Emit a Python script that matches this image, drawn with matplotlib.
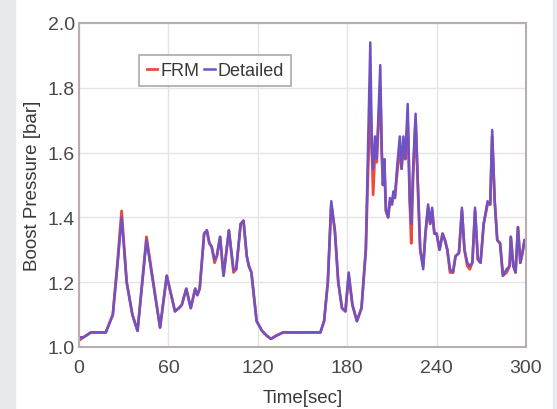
import matplotlib.pyplot as plt
from matplotlib.patches import Rectangle

plt.rcParams.update({
    "font.family": ["Liberation Sans", "DejaVu Sans"],
    "font.size": 13,
})

# =========================================================
# DATA
# =========================================================

time_s = [0, 3, 8, 18, 22.7, 25.8, 28.6, 32, 35.8, 39.3, 45.3, 54.4, 58.9,
          64.4, 67, 69, 72, 75, 78, 79.4, 81, 84, 85.8, 87.5, 89, 91, 92.5,
          94.7, 97, 100.6, 103.7, 105.5, 108.5, 110.4, 112.6, 114, 115.7,
          119.2, 122.8, 126, 128.8, 132.4, 137, 162, 164.5, 167, 169.3,
          171.7, 174, 176.5, 178.8, 181, 183.5, 186.5, 189.6, 192.5, 195.5,
          196.6, 197.4, 198.6, 199.8, 201, 202.2, 203.2, 204, 205, 206, 207.5,
          208.7, 210, 211, 212, 213.4, 215.3, 216.5, 217.7, 219, 220.6, 222,
          223, 224.2, 225.9, 227.5, 229, 231, 232.5, 234.3, 235.7, 237, 238.5,
          240, 242, 244, 245.6, 247.2, 249, 251, 252.7, 255, 257, 258.7,
          260.6, 262.3, 264, 265.8, 267.7, 269.5, 271.6, 274.2, 276, 277.3,
          279, 280.7, 282.6, 284.5, 287, 289, 289.8, 291.5, 293, 294.6,
          296.2, 297.6, 299, 300]

detailed = [1.03, 1.03, 1.045, 1.045, 1.10, 1.25, 1.40, 1.20, 1.10, 1.05,
            1.33, 1.06, 1.22, 1.11, 1.12, 1.13, 1.18, 1.12, 1.18, 1.16, 1.18,
            1.35, 1.36, 1.32, 1.31, 1.27, 1.28, 1.34, 1.22, 1.36, 1.24, 1.24,
            1.38, 1.39, 1.28, 1.25, 1.23, 1.08, 1.05, 1.035, 1.025, 1.035,
            1.045, 1.045, 1.08, 1.20, 1.45, 1.36, 1.20, 1.12, 1.11, 1.23,
            1.13, 1.08, 1.12, 1.30, 1.94, 1.60, 1.55, 1.65, 1.58, 1.72, 1.87,
            1.60, 1.50, 1.58, 1.42, 1.40, 1.46, 1.44, 1.48, 1.46, 1.55, 1.65,
            1.55, 1.65, 1.58, 1.75, 1.45, 1.38, 1.55, 1.72, 1.50, 1.30, 1.24,
            1.35, 1.44, 1.38, 1.43, 1.35, 1.35, 1.30, 1.35, 1.33, 1.30, 1.24,
            1.23, 1.28, 1.29, 1.43, 1.30, 1.26, 1.25, 1.26, 1.43, 1.27, 1.26,
            1.38, 1.45, 1.44, 1.67, 1.45, 1.33, 1.32, 1.22, 1.24, 1.25, 1.34,
            1.25, 1.23, 1.37, 1.26, 1.29, 1.33, 1.31]

frm = [1.02, 1.03, 1.045, 1.045, 1.10, 1.26, 1.42, 1.20, 1.10, 1.05,
       1.34, 1.06, 1.22, 1.11, 1.12, 1.13, 1.18, 1.12, 1.18, 1.16, 1.18,
       1.35, 1.36, 1.32, 1.31, 1.26, 1.28, 1.34, 1.22, 1.36, 1.23, 1.24,
       1.38, 1.39, 1.28, 1.25, 1.23, 1.08, 1.05, 1.035, 1.025, 1.035,
       1.045, 1.045, 1.08, 1.20, 1.44, 1.36, 1.20, 1.12, 1.11, 1.22,
       1.13, 1.08, 1.12, 1.30, 1.78, 1.60, 1.47, 1.60, 1.57, 1.69, 1.80,
       1.60, 1.50, 1.55, 1.42, 1.40, 1.45, 1.44, 1.47, 1.46, 1.53, 1.62,
       1.55, 1.62, 1.58, 1.70, 1.45, 1.32, 1.52, 1.70, 1.48, 1.30, 1.25,
       1.35, 1.43, 1.38, 1.42, 1.35, 1.35, 1.30, 1.35, 1.33, 1.30, 1.23,
       1.23, 1.28, 1.29, 1.42, 1.30, 1.25, 1.24, 1.26, 1.42, 1.27, 1.26,
       1.38, 1.44, 1.44, 1.65, 1.45, 1.33, 1.32, 1.22, 1.23, 1.25, 1.34,
       1.25, 1.23, 1.37, 1.26, 1.29, 1.33, 1.32]

x_ticks = [0, 60, 120, 180, 240, 300]
y_ticks = [1.0, 1.2, 1.4, 1.6, 1.8, 2.0]

# =========================================================
# PLOT
# =========================================================

fig = plt.figure(figsize=(5.57, 4.10), dpi=100, facecolor="white")

# grey page strips at the edges
fig.patches.append(Rectangle((0, 0), 15 / 557, 1, transform=fig.transFigure,
                             color="#e8e9ed", zorder=-1))
fig.patches.append(Rectangle((553 / 557, 0), 4 / 557, 1, transform=fig.transFigure,
                             color="#e8e9ed", zorder=-1))

ax = fig.add_axes([79 / 557, 1 - 348 / 410, 447 / 557, 324 / 410])

ax.plot(time_s, frm, color="#ee4a3c", linewidth=2.0, label="FRM")
ax.plot(time_s, detailed, color="#6f52c4", linewidth=1.8, label="Detailed")

ax.set_xlim(0, 300)
ax.set_ylim(1.0, 2.0)
ax.set_xticks(x_ticks)
ax.set_yticks(y_ticks)
ax.set_yticklabels([f"{v:.1f}" for v in y_ticks])
ax.tick_params(length=0, labelcolor="#484848", labelsize=14)
ax.tick_params(axis="x", pad=9)
ax.tick_params(axis="y", pad=3)
ax.grid(True, color="#e4e4e4", linewidth=1.0)
ax.set_axisbelow(True)

for spine in ax.spines.values():
    spine.set_color("#b8aeab")
    spine.set_linewidth(1.5)

ax.set_xlabel("Time[sec]", color="#383838", fontsize=13.5, labelpad=9)
ax.set_ylabel("Boost Pressure [bar]", color="#383838", fontsize=13.5, labelpad=5)

leg = ax.legend(loc="upper left", bbox_to_anchor=(0.115, 0.93), ncol=2,
                handlelength=0.6, handletextpad=0.15, columnspacing=0.25,
                fancybox=False, shadow=False, fontsize=13, borderpad=0.4,
                labelcolor="#383838")
leg.get_frame().set_edgecolor("#9a9090")
leg.get_frame().set_linewidth(1.2)

plt.savefig("out.png", dpi=100)
